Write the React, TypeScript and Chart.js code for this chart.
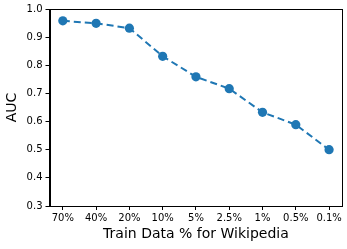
import React, { useEffect, useRef } from "react";
import { Chart, registerables } from "chart.js";

Chart.register(...registerables);

const categories = ["70%", "40%", "20%", "10%", "5%", "2.5%", "1%", "0.5%", "0.1%"];
const aucValues = [0.958, 0.949, 0.932, 0.832, 0.759, 0.717, 0.633, 0.589, 0.5];
const yTicks = [0.3, 0.4, 0.5, 0.6, 0.7, 0.8, 0.9, 1.0];

const color = "#1f77b4";

const boxPlugin = {
  id: "box",
  afterDraw(chart: any) {
    const { ctx, chartArea } = chart;
    ctx.save();
    ctx.strokeStyle = "#000";
    ctx.lineWidth = 1;
    ctx.strokeRect(
      Math.round(chartArea.left) + 0.5,
      Math.round(chartArea.top) + 0.5,
      Math.round(chartArea.right - chartArea.left) - 1,
      Math.round(chartArea.bottom - chartArea.top)
    );
    ctx.restore();
  },
};

export default function App() {
  const ref = useRef<HTMLCanvasElement>(null);
  useEffect(() => {
    document.body.style.margin = "0";
    const chart = new Chart(ref.current!, {
      type: "line",
      data: {
        datasets: [
          {
            data: aucValues.map((v, i) => ({ x: i, y: v })),
            borderColor: color,
            backgroundColor: color,
            borderWidth: 2,
            borderDash: [7, 4],
            pointRadius: 4.6,
            pointBorderWidth: 0,
            pointBackgroundColor: color,
            tension: 0,
          },
        ],
      },
      options: {
        animation: false,
        responsive: false,
        maintainAspectRatio: false,
        layout: { padding: { top: 3, right: 1, left: 4, bottom: 6 } },
        plugins: { legend: { display: false }, tooltip: { enabled: false } },
        scales: {
          x: {
            type: "linear",
            min: -0.4,
            max: 8.4,
            afterBuildTicks(axis: any) {
              axis.ticks = categories.map((_, i) => ({ value: i }));
            },
            ticks: {
              autoSkip: false,
              maxRotation: 0,
              color: "#000",
              font: { family: "DejaVu Sans", size: 10 },
              padding: 2,
              callback: (v: any) => categories[v as number] ?? "",
            },
            grid: { display: true, drawOnChartArea: false, color: "#000", tickLength: 4 },
            border: { display: true, color: "#000" },
            title: {
              display: true,
              text: "Train Data % for Wikipedia",
              color: "#000",
              font: { family: "DejaVu Sans", size: 14 },
              padding: { top: 1, bottom: 0 },
            },
            afterFit(axis: any) {
              axis.height = 37;
            },
          },
          y: {
            type: "linear",
            min: 0.3,
            max: 1.0,
            afterBuildTicks(axis: any) {
              axis.ticks = yTicks.map((v) => ({ value: v }));
            },
            ticks: {
              color: "#000",
              font: { family: "DejaVu Sans", size: 10 },
              padding: 3,
              callback: (v: any) => Number(v).toFixed(1),
            },
            grid: { display: true, drawOnChartArea: false, color: "#000", tickLength: 4 },
            border: { display: true, color: "#000" },
            title: {
              display: true,
              text: "AUC",
              color: "#000",
              font: { family: "DejaVu Sans", size: 14 },
              padding: { top: 0, bottom: 2 },
            },
            afterFit(axis: any) {
              axis.width = 45.5;
            },
          },
        },
      },
      plugins: [boxPlugin],
    });
    return () => chart.destroy();
  }, []);
  return (
    <div style={{ width: 347, height: 249 }}>
      <canvas ref={ref} width={347} height={249} style={{ display: "block" }} />
    </div>
  );
}
